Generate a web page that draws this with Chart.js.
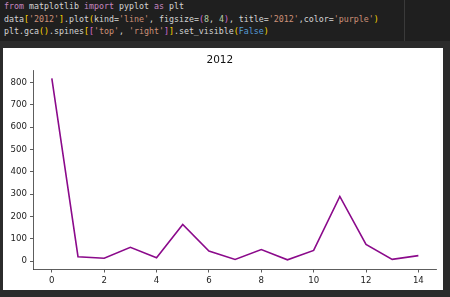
<!DOCTYPE html>
<html><head><meta charset="utf-8">
<script src="https://cdn.jsdelivr.net/npm/chart.js@4/dist/chart.umd.min.js"></script>
<style>
html,body{margin:0;padding:0;width:450px;height:297px;background:#2b2b2b;overflow:hidden;}
#code{position:absolute;left:0;top:0;width:450px;height:41px;background:#1f1f1f;}
#divider{position:absolute;left:404px;top:0;width:1px;height:41px;background:#3a3a3a;}
.ln{position:absolute;left:4px;font-family:"DejaVu Sans Mono",monospace;font-size:8.3px;color:#d4d4d4;white-space:pre;line-height:10px;}
.k{color:#c586c0}.s{color:#ce9178}.b1{color:#ffd700}.b2{color:#da70d6}.n{color:#b5cea8}.f{color:#569cd6}
#panel{position:absolute;left:3px;top:48px;width:440px;height:242px;background:#fff;}
</style></head><body>
<div id="code">
<div class="ln" style="top:1px"><span class="k">from</span> matplotlib <span class="k">import</span> pyplot <span class="k">as</span> plt</div>
<div class="ln" style="top:14px">data<span class="b1">[</span><span class="s">'2012'</span><span class="b1">]</span>.plot<span class="b1">(</span>kind=<span class="s">'line'</span>, figsize=<span class="b2">(</span><span class="n">8</span>, <span class="n">4</span><span class="b2">)</span>, title=<span class="s">'2012'</span>,color=<span class="s">'purple'</span><span class="b1">)</span></div>
<div class="ln" style="top:26px">plt.gca<span class="b1">()</span>.spines<span class="b1">[</span><span class="b2">[</span><span class="s">'top'</span>, <span class="s">'right'</span><span class="b2">]</span><span class="b1">]</span>.set_visible<span class="b1">(</span><span class="f">False</span><span class="b1">)</span></div>
<div id="divider"></div>
</div>
<div id="panel"><canvas id="c" width="440" height="242"></canvas></div>
<script>
const categories = [0,1,2,3,4,5,6,7,8,9,10,11,12,13,14];
const values2012 = [819,20,13,62,15,164,45,8,52,6,48,290,75,8,25];
const xTicks = [0,2,4,6,8,10,12,14];
const yTicks = [0,100,200,300,400,500,600,700,800];
const chartTitle = '2012';

const pts = categories.map((c,i)=>({x:c,y:values2012[i]}));
const tickFont = {family:'DejaVu Sans', size:8.6};
new Chart(document.getElementById('c'), {
  type:'line',
  data:{datasets:[{data:pts,borderColor:'#8b0a8b',borderWidth:1.6,pointRadius:0,fill:false,tension:0}]},
  options:{
    responsive:false, animation:false, devicePixelRatio:1,
    layout:{padding:{left:0,right:6.3,top:0,bottom:0}},
    plugins:{legend:{display:false},tooltip:{enabled:false},
      title:{display:true,text:chartTitle,color:'#111',font:{family:'DejaVu Sans',size:10.5,weight:'normal',lineHeight:1.2},padding:{top:5.5,bottom:3.9}}},
    scales:{
      x:{type:'linear',min:-0.7,max:14.7,
        afterBuildTicks:s=>{s.ticks=xTicks.map(v=>({value:v}));},
        afterFit:s=>{s.height=21;},
        grid:{display:true,drawOnChartArea:false,drawTicks:true,tickLength:3.5,color:'#333',lineWidth:0.8},
        border:{display:true,color:'#333',width:0.8},
        ticks:{color:'#222',font:tickFont,padding:3,maxRotation:0,autoSkip:false}},
      y:{type:'linear',min:-35,max:856,
        afterBuildTicks:s=>{s.ticks=yTicks.map(v=>({value:v}));},
        afterFit:s=>{s.width=30.5;},
        grid:{display:true,drawOnChartArea:false,drawTicks:true,tickLength:3.5,color:'#333',lineWidth:0.8},
        border:{display:true,color:'#333',width:0.8},
        ticks:{color:'#222',font:tickFont,padding:3,autoSkip:false}}
    }
  }
});
</script>
</body></html>
